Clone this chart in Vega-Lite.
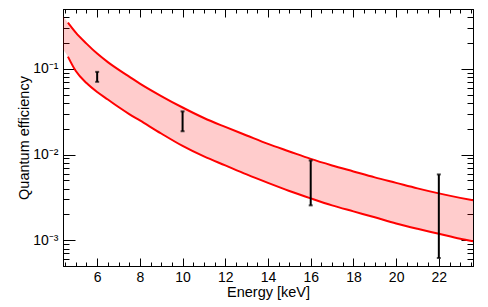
{
  "$schema": "https://vega.github.io/schema/vega-lite/v6.json",
  "width": 410,
  "height": 257,
  "autosize": {"type": "none"},
  "padding": {"left": 63, "top": 9, "right": 15, "bottom": 41},
  "background": "white",
  "config": {
    "view": {"stroke": "#000", "strokeWidth": 1},
    "axis": {
      "labelFont": "Liberation Sans",
      "titleFont": "Liberation Sans",
      "labelFontSize": 14,
      "titleFontSize": 14.5,
      "titleFontWeight": "normal",
      "labelColor": "#000",
      "titleColor": "#000",
      "domainColor": "#000",
      "tickColor": "#000",
      "grid": false,
      "labelOverlap": false,
      "labelFlush": false
    }
  },
  "datasets": {
    "band": [
      {"x": 4.4, "lo": 0.1679, "hi": 0.418},
      {"x": 4.63, "lo": 0.1391, "hi": 0.3464},
      {"x": 5.0, "lo": 0.0943, "hi": 0.2649},
      {"x": 5.5, "lo": 0.0683, "hi": 0.1972},
      {"x": 6.0, "lo": 0.0537, "hi": 0.1508},
      {"x": 6.5, "lo": 0.0439, "hi": 0.12},
      {"x": 7.0, "lo": 0.0359, "hi": 0.0981},
      {"x": 7.5, "lo": 0.0297, "hi": 0.0813},
      {"x": 8.0, "lo": 0.025, "hi": 0.0674},
      {"x": 9.0, "lo": 0.0176, "hi": 0.0482},
      {"x": 10.0, "lo": 0.0126, "hi": 0.0354},
      {"x": 11.0, "lo": 0.0095, "hi": 0.0267},
      {"x": 12.0, "lo": 0.00746, "hi": 0.021},
      {"x": 13.0, "lo": 0.00586, "hi": 0.0167},
      {"x": 14.0, "lo": 0.00467, "hi": 0.0133},
      {"x": 15.0, "lo": 0.00376, "hi": 0.01087},
      {"x": 16.0, "lo": 0.00308, "hi": 0.00889},
      {"x": 17.0, "lo": 0.00255, "hi": 0.00746},
      {"x": 18.0, "lo": 0.00217, "hi": 0.00635},
      {"x": 19.0, "lo": 0.00185, "hi": 0.00541},
      {"x": 20.0, "lo": 0.00157, "hi": 0.00467},
      {"x": 21.0, "lo": 0.00136, "hi": 0.00403},
      {"x": 22.0, "lo": 0.00119, "hi": 0.00352},
      {"x": 23.0, "lo": 0.00104, "hi": 0.00312},
      {"x": 23.6, "lo": 0.00097, "hi": 0.00292}
    ],
    "err": [
      {"x": 6, "lo": 0.0706, "hi": 0.0923},
      {"x": 10, "lo": 0.0187, "hi": 0.0319},
      {"x": 16, "lo": 0.00255, "hi": 0.00853},
      {"x": 22, "lo": 0.00062, "hi": 0.00586}
    ]
  },
  "layer": [
    {
      "data": {"name": "band"},
      "mark": {"type": "area", "fill": "#ff0000", "fillOpacity": 0.2, "strokeWidth": 0, "interpolate": "monotone"},
      "encoding": {
        "x": {
          "field": "x", "type": "quantitative",
          "scale": {"domain": [4.4, 23.6], "nice": false, "zero": false},
          "axis": {
            "orient": "bottom",
            "values": [4.5, 5, 5.5, 6, 6.5, 7, 7.5, 8, 8.5, 9, 9.5, 10, 10.5, 11, 11.5, 12, 12.5, 13, 13.5, 14, 14.5, 15, 15.5, 16, 16.5, 17, 17.5, 18, 18.5, 19, 19.5, 20, 20.5, 21, 21.5, 22, 22.5, 23, 23.5],
            "labelExpr": "datum.value % 2 == 0 ? format(datum.value, 'd') : ''",
            "tickSize": {"condition": {"test": "datum.value % 2 == 0", "value": -8}, "value": -4},
            "labelPadding": 12,
            "title": "Energy [keV]",
            "titleBaseline": "alphabetic",
            "titleY": 30
          }
        },
        "y": {
          "field": "lo", "type": "quantitative",
          "scale": {"type": "log", "domain": [0.0005, 0.5], "nice": false},
          "axis": {
            "orient": "left",
            "values": [0.0005, 0.0006, 0.0007, 0.0008, 0.0009, 0.001, 0.002, 0.003, 0.004, 0.005, 0.006, 0.007, 0.008, 0.009, 0.01, 0.02, 0.03, 0.04, 0.05, 0.06, 0.07, 0.08, 0.09, 0.1, 0.2, 0.3, 0.4, 0.5],
            "labelExpr": "datum.value == 0.1 ? '10⁻¹' : datum.value == 0.01 ? '10⁻²' : datum.value == 0.001 ? '10⁻³' : ''",
            "tickSize": {"condition": {"test": "datum.value == 0.1 || datum.value == 0.01 || datum.value == 0.001", "value": -12}, "value": -6},
            "labelPadding": 17,
            "title": "Quantum efficiency",
            "titlePadding": 1
          }
        },
        "y2": {"field": "hi"}
      }
    },
    {
      "data": {"name": "band"},
      "transform": [{"filter": "datum.x >= 4.6"}],
      "mark": {"type": "line", "color": "#ff0000", "strokeWidth": 2, "interpolate": "monotone"},
      "encoding": {
        "x": {
          "field": "x", "type": "quantitative",
          "axis": {
            "orient": "top",
            "values": [4.5, 5, 5.5, 6, 6.5, 7, 7.5, 8, 8.5, 9, 9.5, 10, 10.5, 11, 11.5, 12, 12.5, 13, 13.5, 14, 14.5, 15, 15.5, 16, 16.5, 17, 17.5, 18, 18.5, 19, 19.5, 20, 20.5, 21, 21.5, 22, 22.5, 23, 23.5],
            "labels": false,
            "title": null,
            "tickSize": {"condition": {"test": "datum.value % 2 == 0", "value": -8}, "value": -4}
          }
        },
        "y": {
          "field": "hi", "type": "quantitative",
          "axis": {
            "orient": "right",
            "values": [0.0005, 0.0006, 0.0007, 0.0008, 0.0009, 0.001, 0.002, 0.003, 0.004, 0.005, 0.006, 0.007, 0.008, 0.009, 0.01, 0.02, 0.03, 0.04, 0.05, 0.06, 0.07, 0.08, 0.09, 0.1, 0.2, 0.3, 0.4, 0.5],
            "labels": false,
            "title": null,
            "tickSize": {"condition": {"test": "datum.value == 0.1 || datum.value == 0.01 || datum.value == 0.001", "value": -12}, "value": -6}
          }
        }
      }
    },
    {
      "data": {"name": "band"},
      "transform": [{"filter": "datum.x >= 4.6"}],
      "mark": {"type": "line", "color": "#ff0000", "strokeWidth": 2, "interpolate": "monotone"},
      "encoding": {
        "x": {"field": "x", "type": "quantitative", "axis": null},
        "y": {"field": "lo", "type": "quantitative", "axis": null}
      }
    },
    {
      "data": {"name": "err"},
      "mark": {"type": "rule", "color": "#000", "strokeWidth": 2},
      "encoding": {
        "x": {"field": "x", "type": "quantitative", "axis": null},
        "y": {"field": "lo", "type": "quantitative", "axis": null},
        "y2": {"field": "hi"}
      }
    },
    {
      "data": {"name": "err"},
      "mark": {"type": "tick", "orient": "horizontal", "size": 4, "thickness": 2, "color": "#000"},
      "encoding": {
        "x": {"field": "x", "type": "quantitative", "axis": null},
        "y": {"field": "lo", "type": "quantitative", "axis": null}
      }
    },
    {
      "data": {"name": "err"},
      "mark": {"type": "tick", "orient": "horizontal", "size": 4, "thickness": 2, "color": "#000"},
      "encoding": {
        "x": {"field": "x", "type": "quantitative", "axis": null},
        "y": {"field": "hi", "type": "quantitative", "axis": null}
      }
    }
  ],
  "resolve": {"axis": {"x": "independent", "y": "independent"}}
}
